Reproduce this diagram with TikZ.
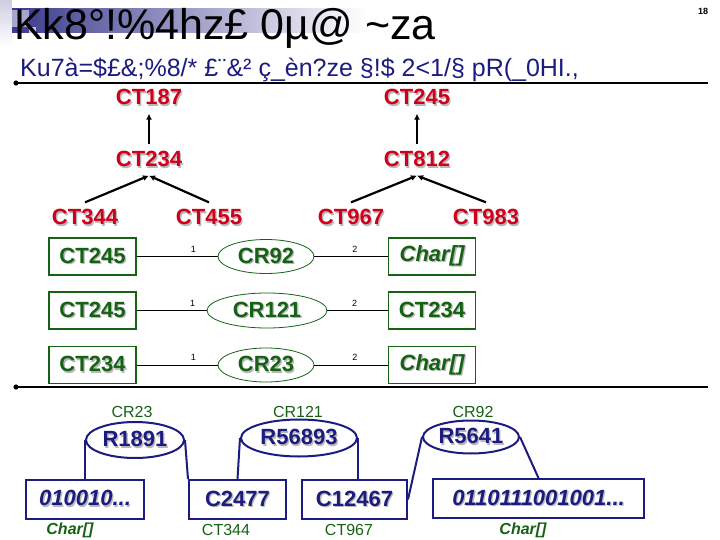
\documentclass[tikz,border=0pt]{standalone}
\usepackage{fontspec}
\setmainfont{Liberation Sans}
\usetikzlibrary{arrows.meta,positioning,shapes.geometric,calc}
\definecolor{slideNavy}{HTML}{1C1C80}
\definecolor{slideRed}{HTML}{D0001C}
\definecolor{slideGreen}{HTML}{156215}
\definecolor{bannerBlue}{HTML}{3A3A8E}
\newcommand{\txtshadow}[1]{\rlap{\kern1.3pt\raisebox{-1.3pt}{\textcolor{black!28}{#1}}}#1}
\newcommand{\bigsize}{\fontsize{22}{24}\selectfont\bfseries}

\begin{document}
\begin{tikzpicture}[x=1pt,y=-1pt,
  typ/.style={text=slideRed,font=\bigsize,inner sep=7pt},
  isa/.style={-{Latex[length=6pt,width=6pt]},line width=2.2pt},
  gbox/.style={draw=slideGreen,line width=1.1pt,text=slideGreen,minimum width=87pt,minimum height=37pt,inner sep=0pt,font=\bigsize},
  gell/.style={draw=slideGreen,line width=0.8pt,ellipse,text=slideGreen,minimum width=96pt,minimum height=34pt,inner sep=0pt,font=\bigsize},
  glink/.style={line width=0.9pt},
  role/.style={font=\fontsize{9}{10}\selectfont,inner sep=1pt},
  vbox/.style={draw=slideNavy,line width=2pt,text=slideNavy,minimum height=39pt,inner sep=0pt,font=\bigsize},
  vell/.style={draw=slideNavy,line width=2pt,ellipse,text=slideNavy,inner sep=0pt,font=\bigsize},
  vlink/.style={slideNavy,line width=2pt},
  tag/.style={text=slideGreen,font=\fontsize{16}{18}\selectfont,inner sep=0pt},
  rule/.style={line width=2pt}]
\useasboundingbox (0,0) rectangle (720,540);

% slide header
\shade[top color=bannerBlue!25,bottom color=white] (0,0) rectangle (12,46);
\shade[left color=bannerBlue,right color=white] (12,9) rectangle (365,33);
\fill[bannerBlue!45] (12,10) rectangle (29,27);
\fill[white!70!bannerBlue] (29,27) rectangle (36,33);
\node[anchor=base west,inner sep=0pt,font=\fontsize{43}{45}\selectfont] (title) at (14,40)
  {Kk8°!\%4hz£ 0µ@ \textasciitilde za};
\node[font=\fontsize{9}{10}\selectfont\bfseries] (page) at (703,11) {18};
\node[anchor=base west,inner sep=0pt,text=slideNavy,font=\fontsize{25}{27}\selectfont] (subtitle) at (20,77)
  {Ku7à=\$£\&;\%8/* £¨\&² ç\_èn?ze §!\$ 2<1/§ pR(\_0HI.,};
\draw[rule] (16,83) -- (708,83);
\fill (16,83) circle (2.6pt);

% type tree
\node[typ] (t187) at (149,98) {\txtshadow{CT187}};
\node[typ] (t245) at (417,98) {\txtshadow{CT245}};
\node[typ] (t234) at (149,160) {\txtshadow{CT234}};
\node[typ] (t812) at (417,160) {\txtshadow{CT812}};
\node[typ] (t344) at (85,218) {\txtshadow{CT344}};
\node[typ] (t455) at (209,218) {\txtshadow{CT455}};
\node[typ] (t967) at (351,218) {\txtshadow{CT967}};
\node[typ] (t983) at (486,218) {\txtshadow{CT983}};

\draw[isa] (t234) -- (t187);
\draw[isa] (t812) -- (t245);
\draw[isa] (t344.north) -- (t234.south);
\draw[isa] (t455.north) -- (t234.south);
\draw[isa] (t967.north) -- (t812.south);
\draw[isa] (t983.north) -- (t812.south);

% relation schemas
\node[gbox] (a1) at (92.5,256.5) {\txtshadow{CT245}};
\node[gell] (cr92) at (266,256.5) {\txtshadow{CR92}};
\node[gbox] (c1) at (432,256.5) {\txtshadow{\itshape Char[]}};
\node[gbox] (a2) at (92.5,310.5) {\txtshadow{CT245}};
\node[gell,minimum width=120pt,minimum height=35pt] (cr121) at (267,310.5) {\txtshadow{CR121}};
\node[gbox] (c2) at (432,310.5) {\txtshadow{CT234}};
\node[gbox] (a3) at (92.5,365) {\txtshadow{CT234}};
\node[gell] (cr23) at (266,365) {\txtshadow{CR23}};
\node[gbox] (c3) at (432,365) {\txtshadow{\itshape Char[]}};

\draw[glink] (a1) -- node[role,pos=0.7,above=3pt] {1} (cr92);
\draw[glink] (cr92) -- node[role,pos=0.55,above=3pt] {2} (c1);
\draw[glink] (a2) -- node[role,pos=0.8,above=3pt] {1} (cr121);
\draw[glink] (cr121) -- node[role,pos=0.45,above=3pt] {2} (c2);
\draw[glink] (a3) -- node[role,pos=0.7,above=3pt] {1} (cr23);
\draw[glink] (cr23) -- node[role,pos=0.55,above=3pt] {2} (c3);

\draw[rule] (16,387) -- (708,387);
\fill (16,387) circle (2.6pt);

% instances
\node[vell,minimum width=98pt,minimum height=36pt] (r1891) at (135,440) {\txtshadow{R1891}};
\node[vell,minimum width=116pt,minimum height=37pt] (r56893) at (299,438) {\txtshadow{R56893}};
\node[vell,minimum width=96pt,minimum height=33pt] (r5641) at (471,437) {\txtshadow{R5641}};
\node[tag] (l23) at (132,412) {CR23};
\node[tag] (l121) at (298,412) {CR121};
\node[tag] (l92) at (473,412) {CR92};

\node[vbox,minimum width=118pt] (v1) at (85,499) {\txtshadow{\itshape 010010...}};
\node[vbox,minimum width=97pt] (v2) at (237.5,499.5) {\txtshadow{C2477}};
\node[vbox,minimum width=105pt] (v3) at (354.5,499.5) {\txtshadow{C12467}};
\node[vbox,minimum width=211pt] (v4) at (538.5,498.5) {\txtshadow{\itshape 0110111001001...}};
\node[tag,font=\fontsize{16}{18}\selectfont\bfseries\itshape] (k1) at (70,530) {Char[]};
\node[tag] (k2) at (226,530) {CT344};
\node[tag] (k3) at (349,530) {CT967};
\node[tag,font=\fontsize{16}{18}\selectfont\bfseries\itshape] (k4) at (523,530) {Char[]};

\draw[vlink] (r1891.west) -- (v1.north -| r1891.west);
\draw[vlink] (r1891.east) -- (v2.north west);
\draw[vlink] (r56893.west) -- (v2.north);
\draw[vlink] (r56893.east) -- (v3.north -| r56893.east);
\draw[vlink] (r5641.west) -- (v3.east);
\draw[vlink] (r5641.east) -- (v4.north);
\end{tikzpicture}
\end{document}
